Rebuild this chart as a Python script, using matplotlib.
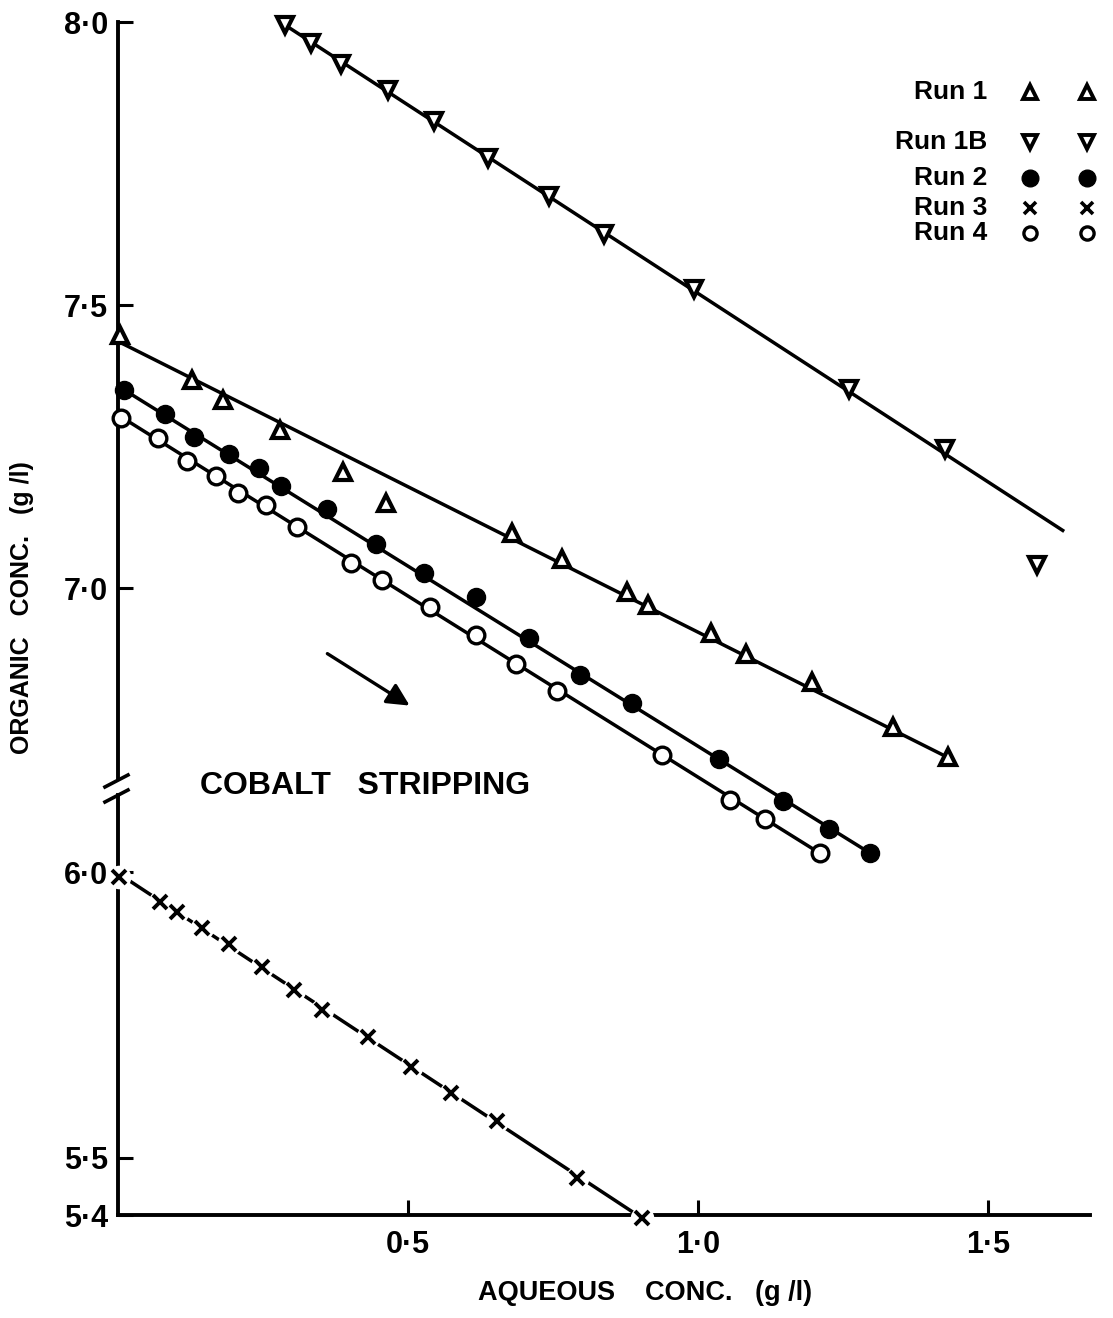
import matplotlib
matplotlib.use('Agg')
import matplotlib.pyplot as plt
from matplotlib.lines import Line2D

plt.rcParams['font.family'] = ['Liberation Sans', 'DejaVu Sans']
plt.rcParams['font.weight'] = 'bold'

# Run 1 (open up-triangles)
run1_x = [0.003, 0.128, 0.181, 0.279, 0.388, 0.462, 0.679, 0.766, 0.878, 0.914,
          1.022, 1.083, 1.197, 1.336, 1.431]
run1_y = [7.447, 7.367, 7.332, 7.279, 7.205, 7.150, 7.097, 7.051, 6.993, 6.970,
          6.920, 6.883, 6.834, 6.754, 6.701]
run1_fit_x = [0.0, 1.431]
run1_fit_y = [7.436, 6.701]

# Run 1B (open down-triangles)
run1b_x = [0.288, 0.333, 0.384, 0.466, 0.545, 0.638, 0.743, 0.838, 0.993, 1.260,
           1.426, 1.584]
run1b_y = [7.995, 7.963, 7.926, 7.880, 7.825, 7.760, 7.693, 7.625, 7.528, 7.352,
           7.246, 7.041]
run1b_fit_x = [0.28, 1.629]
run1b_fit_y = [8.0, 7.102]

# Run 2 (filled circles)
run2_x = [0.010, 0.081, 0.131, 0.191, 0.243, 0.281, 0.360, 0.445, 0.528, 0.617,
          0.709, 0.797, 0.886, 1.036, 1.147, 1.226, 1.297]
run2_y = [7.350, 7.307, 7.267, 7.237, 7.212, 7.180, 7.139, 7.078, 7.027, 6.984,
          6.912, 6.846, 6.797, 6.698, 6.624, 6.574, 6.532]
run2_fit_x = [0.0, 1.297]
run2_fit_y = [7.357, 6.532]

# Run 4 (open circles)
run4_x = [0.005, 0.069, 0.119, 0.169, 0.207, 0.255, 0.309, 0.402, 0.455, 0.538,
          0.617, 0.686, 0.757, 0.938, 1.055, 1.116, 1.210]
run4_y = [7.300, 7.265, 7.224, 7.198, 7.168, 7.147, 7.108, 7.044, 7.014, 6.967,
          6.917, 6.866, 6.818, 6.705, 6.625, 6.592, 6.532]
run4_fit_x = [0.0, 1.21]
run4_fit_y = [7.306, 6.532]

# Run 3 (crosses, lower scale)
run3_x = [0.002, 0.072, 0.102, 0.145, 0.191, 0.248, 0.303, 0.352, 0.431, 0.505,
          0.574, 0.653, 0.791, 0.903]
run3_y = [5.991, 5.948, 5.930, 5.902, 5.874, 5.834, 5.794, 5.759, 5.712, 5.659,
          5.614, 5.565, 5.465, 5.395]
run3_fit_x = [0.0, 0.903]
run3_fit_y = [5.998, 5.395]

upper_ticks = [7.0, 7.5, 8.0]
lower_ticks = [5.4, 5.5, 6.0]
x_ticks = [0.5, 1.0, 1.5]
x_ticklabels = ['0·5', '1·0', '1·5']

legend_labels = ['Run 1', 'Run 1B', 'Run 2', 'Run 3', 'Run 4']

fig = plt.figure(figsize=(11.13, 13.18), dpi=100)
ax1 = fig.add_axes([0.106, 0.4021, 0.8733, 0.5812])
ax2 = fig.add_axes([0.106, 0.0781, 0.8733, 0.324])

for ax in (ax1, ax2):
    ax.set_xlim(0, 1.676)
    ax.spines['top'].set_visible(False)
    ax.spines['right'].set_visible(False)
    for s in ax.spines.values():
        s.set_linewidth(2.8)
    ax.tick_params(direction='in', length=11, width=2.2, labelsize=22, pad=7)
    ax.patch.set_alpha(0)

ax1.set_ylim(6.647, 8.0)
ax1.spines['bottom'].set_visible(False)
ax1.spines['left'].set_bounds(6.664, 8.0)
ax1.set_xticks([])
ax1.set_yticks(upper_ticks)
ax1.set_yticklabels([f'{v:.1f}'.replace('.', '·') for v in upper_ticks])

ax2.set_ylim(5.4, 6.147)
ax2.spines['left'].set_bounds(5.4, 6.135)
ax2.set_yticks(lower_ticks)
ax2.set_yticklabels([f'{v:.1f}'.replace('.', '·') for v in lower_ticks])
ax2.set_xticks(x_ticks)
ax2.set_xticklabels(x_ticklabels)
ax2.tick_params(axis='x', pad=11)

lw = 2.5
# fitted lines
ax1.plot(run1b_fit_x, run1b_fit_y, color='black', lw=lw, clip_on=False)
ax1.plot(run1_fit_x, run1_fit_y, color='black', lw=lw, clip_on=False)
ax1.plot(run2_fit_x, run2_fit_y, color='black', lw=lw, clip_on=False)
ax1.plot(run4_fit_x, run4_fit_y, color='black', lw=lw, clip_on=False)
ax2.plot(run3_fit_x, run3_fit_y, color='black', lw=lw, clip_on=False)

# points
tri = dict(ls='none', ms=12, mfc='white', mec='black', mew=3.0, clip_on=False, zorder=3)
ax1.plot(run1_x, run1_y, marker='^', **tri)
ax1.plot(run1b_x, run1b_y, marker='v', **tri)
ax1.plot(run2_x, run2_y, marker='o', ls='none', ms=13, color='black', clip_on=False, zorder=3)
ax1.plot(run4_x, run4_y, marker='o', ls='none', ms=12, mfc='white', mec='black',
         mew=2.4, clip_on=False, zorder=3)
# white halo under crosses breaks the line around each point
ax2.plot(run3_x, run3_y, marker='o', ls='none', ms=17, mfc='white', mec='none',
         clip_on=False, zorder=3)
ax2.plot(run3_x, run3_y, marker='x', ls='none', ms=9.5, mec='black', mew=2.8,
         clip_on=False, zorder=4)

# axis break marks
for y0 in (0.4029, 0.3915):
    fig.add_artist(Line2D([0.0943, 0.1150], [y0, y0 + 0.0091], color='black', lw=2.6))

# key
key_rows = [0.9302, 0.8923, 0.8650, 0.8422, 0.8232]
key_styles = [
    dict(marker='^', ms=10, mfc='white', mec='black', mew=2.8),
    dict(marker='v', ms=10, mfc='white', mec='black', mew=2.8),
    dict(marker='o', ms=12, mfc='black', mec='black'),
    dict(marker='x', ms=8, mec='black', mew=2.6),
    dict(marker='o', ms=9.5, mfc='white', mec='black', mew=2.4),
]
for label, yk, st in zip(legend_labels, key_rows, key_styles):
    fig.text(0.8868, yk, label, ha='right', va='center', fontsize=19, fontweight='bold')
    for xk in (0.9254, 0.9766):
        fig.add_artist(Line2D([xk], [yk], ls='none', **st))

ax1.annotate('', xy=(0.507, 6.79), xytext=(0.357, 6.887),
             arrowprops=dict(arrowstyle='-|>', lw=2.4, color='black', mutation_scale=34))

fig.text(0.18, 0.404, 'COBALT   STRIPPING', ha='left', va='center', fontsize=23,
         fontweight='bold')
fig.text(0.0198, 0.539, 'ORGANIC   CONC.   (g /l)', rotation=90, ha='center',
         va='center', fontsize=18, fontweight='bold')
fig.text(0.5795, 0.019, 'AQUEOUS    CONC.   (g /l)', ha='center', va='center',
         fontsize=19.5, fontweight='bold')

fig.savefig('out.png', dpi=100)
